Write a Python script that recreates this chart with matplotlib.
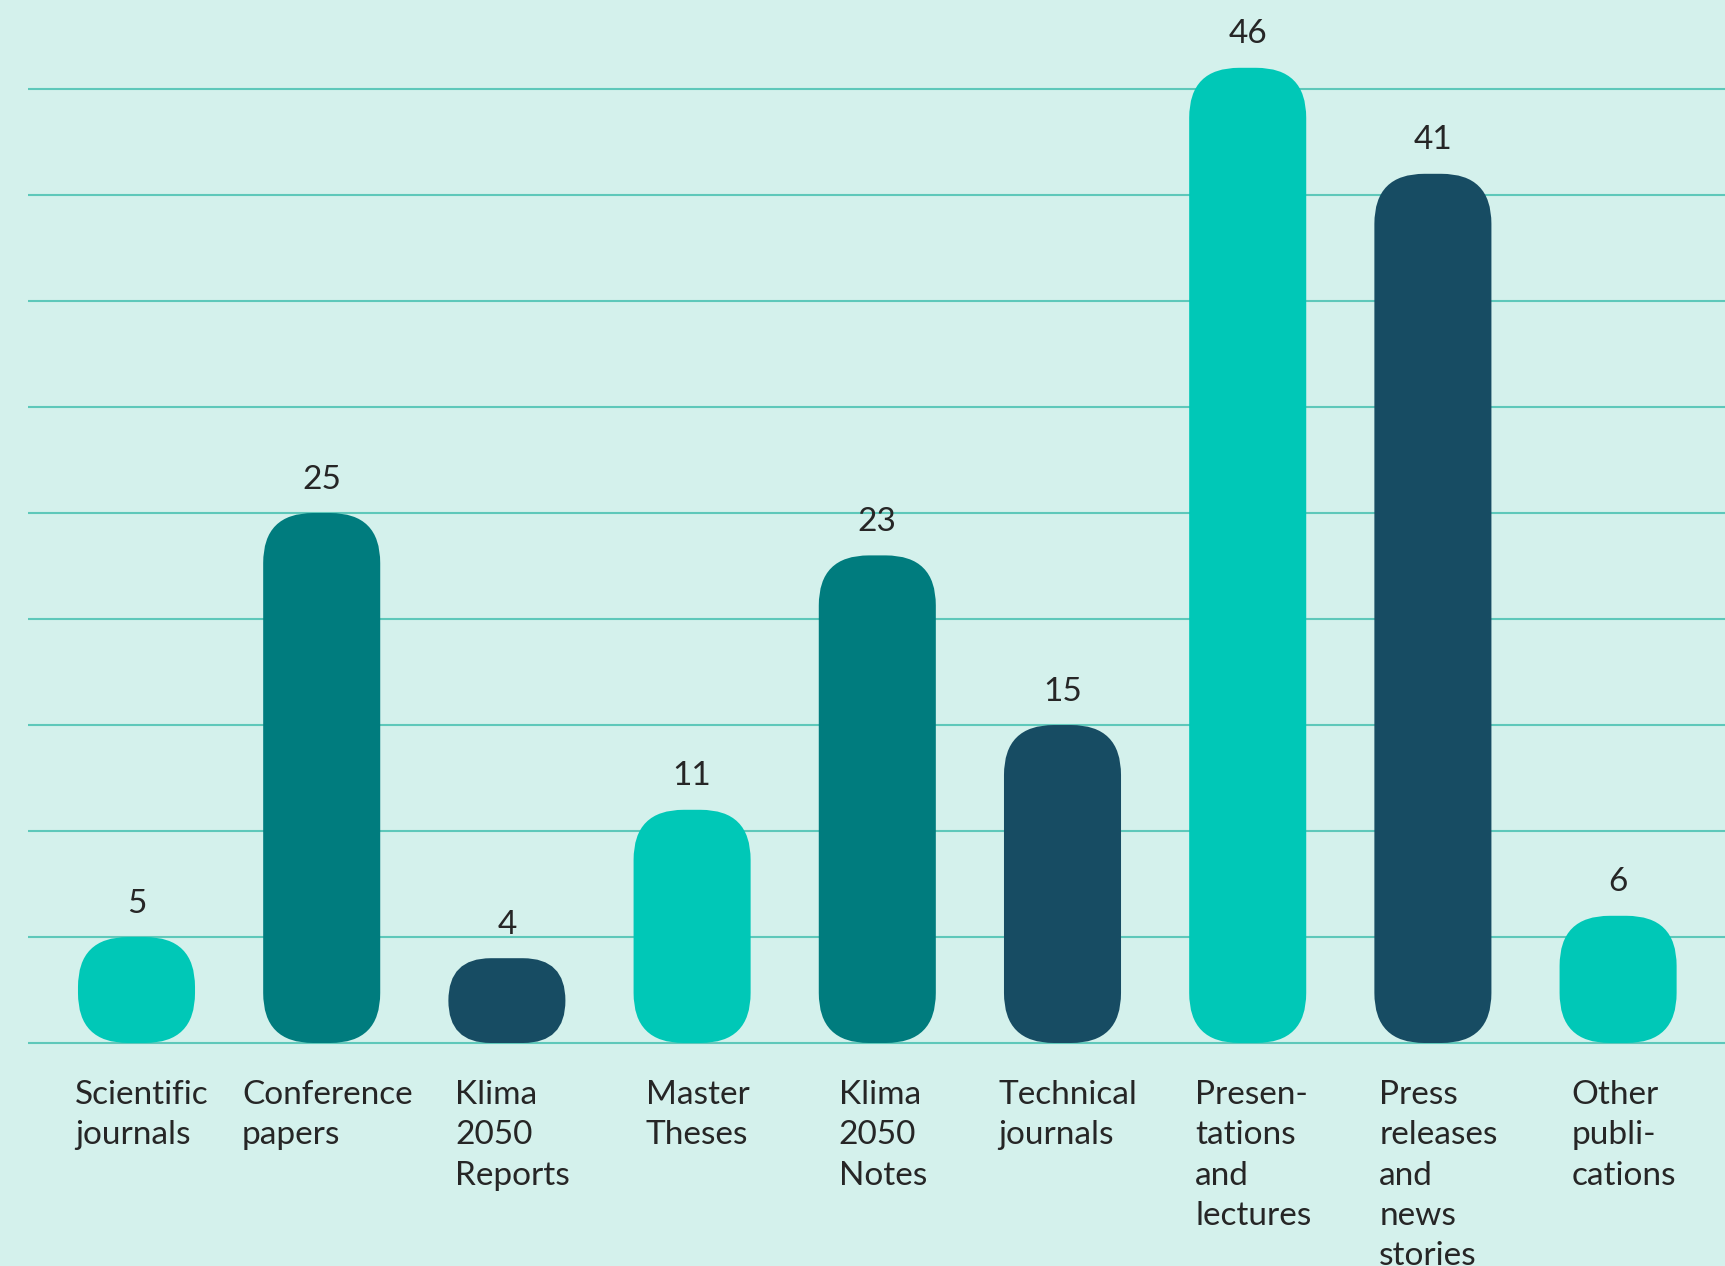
import matplotlib
matplotlib.use("Agg")
import matplotlib.pyplot as plt
from matplotlib.patches import FancyBboxPatch

# data
categories = [
    "Scientific\njournals",
    "Conference\npapers",
    "Klima\n2050\nReports",
    "Master\nTheses",
    "Klima\n2050\nNotes",
    "Technical\njournals",
    "Presen-\ntations\nand\nlectures",
    "Press\nreleases\nand\nnews\nstories",
    "Other\npubli-\ncations",
]
values = [5, 25, 4, 11, 23, 15, 46, 41, 6]
bar_colors = ["#00C8B7", "#007C7E", "#174C63", "#00C8B7", "#007C7E",
              "#174C63", "#00C8B7", "#174C63", "#00C8B7"]
grid_levels = [0, 5, 10, 15, 20, 25, 30, 35, 40, 45]

BG = "#D4F1EC"
GRID = "#5EC8BA"
TEXT = "#262626"

W, H = 1725, 1266
fig = plt.figure(figsize=(W / 100, H / 100), dpi=100, facecolor=BG)
ax = fig.add_axes([28 / W, 0, 1 - 28 / W, 1])
ax.set_facecolor(BG)

# pixel geometry -> data limits
x_step = 185.2      # px between bar centres
y_unit = 21.2       # px per value unit
x0_px, base_px = 136.5, 1043
ax.set_xlim((28 - x0_px) / x_step, (W - x0_px) / x_step)
ax.set_ylim(-(H - base_px) / y_unit, base_px / y_unit)
ax.axis("off")

for g in grid_levels:
    ax.axhline(g, color=GRID, lw=1.5, zorder=1)

bar_w = 0.632
r_px = 50
rx = r_px / x_step
aspect = x_step / y_unit  # data y per data x for equal pixels

for i, (v, c, lab) in enumerate(zip(values, bar_colors, categories)):
    h_scaled = v / aspect
    dr = min(rx, h_scaled / 2, bar_w / 2)
    patch = FancyBboxPatch((i - bar_w / 2, 0), bar_w, v,
                           boxstyle=f"round,pad=0,rounding_size={dr}",
                           mutation_aspect=aspect,
                           facecolor=c, edgecolor="none", zorder=2)
    ax.add_patch(patch)
    ax.text(i, v + 1.15, str(v), ha="center", va="baseline",
            fontsize=24, color=TEXT, family="Lato", zorder=3)
    ax.text(i + 0.03, -1.75, lab, ha="center", va="top",
            multialignment="left", fontsize=24, color=TEXT, family="Lato",
            linespacing=1.43, zorder=3)

fig.savefig("out.png", dpi=100, facecolor=BG)
